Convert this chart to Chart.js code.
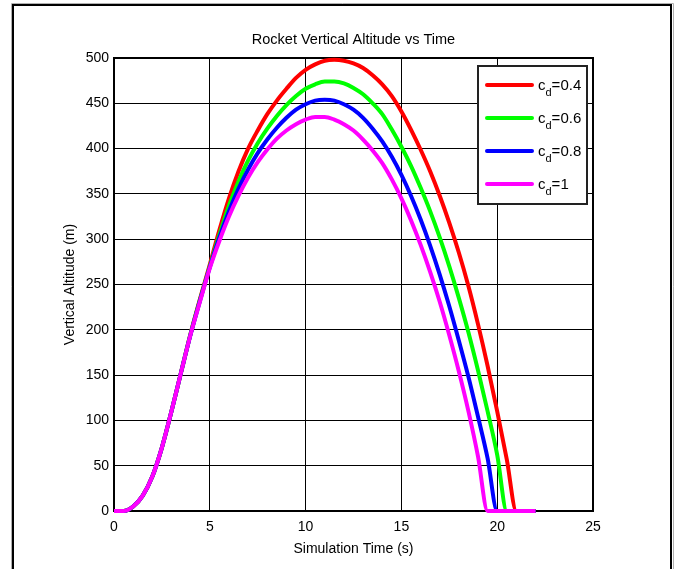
<!DOCTYPE html>
<html>
<head>
<meta charset="utf-8">
<script src="https://cdn.jsdelivr.net/npm/chart.js@4.4.1/dist/chart.umd.min.js"></script>
<style>
  html, body { margin: 0; padding: 0; background: #fff; }
  #wrap { position: relative; width: 678px; height: 569px; }
</style>
</head>
<body>
<div id="wrap"><canvas id="rocketChart" width="678" height="569"></canvas></div>
<script>
// simulation time (s)
const times = [0, 0.5, 1, 1.5, 2, 2.5, 3, 3.5, 4, 4.5, 5, 5.5, 6, 6.5, 7, 7.5, 8, 8.5, 9, 9.5,
  10, 10.5, 11, 11.5, 12, 12.5, 13, 13.5, 14, 14.5, 15, 15.5, 16, 16.5, 17, 17.5, 18, 18.5,
  19, 19.5, 20, 20.5, 21, 21.5, 22];

// drag coefficients (legend)
const dragCoeffs = [0.4, 0.6, 0.8, 1];

// altitude (m) for each cd
const altCd04 = [0, 0, 5, 17, 38, 70, 110, 153, 196, 235, 272, 310, 345, 375, 400, 420, 438, 453, 466, 478,
  487, 493, 497, 498, 497, 494, 489, 481, 471, 458, 441, 421, 399, 375, 348, 318, 285, 248,
  206, 160, 110, 57, 0, 0, 0];
const altCd06 = [0, 0, 5, 17, 38, 70, 110, 153, 196, 234, 270, 305, 337, 364, 387, 406, 422, 436, 448, 458,
  466, 471, 474, 474, 472, 467, 460, 450, 438, 421, 402, 381, 357, 331, 302, 270, 235, 197,
  155, 110, 62, 0, 0, 0, 0];
const altCd08 = [0, 0, 5, 17, 38, 70, 110, 153, 195, 233, 269, 302, 331, 356, 377, 395, 410, 423, 434, 443,
  449, 453, 454, 453, 449, 443, 434, 422, 408, 391, 371, 348, 322, 293, 261, 226, 188, 148,
  104, 58, 0, 0, 0, 0, 0];
const altCd1 = [0, 0, 5, 17, 38, 70, 110, 153, 195, 232, 268, 298, 325, 348, 368, 385, 399, 411, 420, 427,
  432, 435, 435, 432, 427, 420, 410, 398, 384, 366, 345, 321, 294, 264, 231, 194, 154, 110,
  60, 0, 0, 0, 0, 0, 0];

const lineColors = ["#ff0000", "#00ff00", "#0000ff", "#ff00ff"];
const allSeries = [altCd04, altCd06, altCd08, altCd1];
const chartTitle = "Rocket Vertical Altitude vs Time";

Chart.defaults.font.family = '"Liberation Sans", Arial, sans-serif';
Chart.defaults.color = "#000";

// outer figure frame + title centred over the axes
const framePlugin = {
  id: "figFrame",
  beforeDraw(chart) {
    const ctx = chart.ctx;
    ctx.save();
    ctx.fillStyle = "#fff";
    ctx.fillRect(0, 0, chart.width, chart.height);
    ctx.strokeStyle = "#b0b0b0";
    ctx.lineWidth = 1;
    ctx.beginPath();
    ctx.moveTo(11.5, 569); ctx.lineTo(11.5, 3.5); ctx.lineTo(673.5, 3.5); ctx.lineTo(673.5, 569);
    ctx.stroke();
    ctx.strokeStyle = "#000";
    ctx.lineWidth = 2;
    ctx.beginPath();
    ctx.moveTo(13, 569); ctx.lineTo(13, 5); ctx.lineTo(671, 5); ctx.lineTo(671, 569);
    ctx.stroke();
    const a = chart.chartArea;
    ctx.fillStyle = "#000";
    ctx.font = '14.5px "Liberation Sans", Arial';
    ctx.textAlign = "center";
    ctx.textBaseline = "middle";
    ctx.fillText(chartTitle, (a.left + a.right) / 2, 40);
    ctx.restore();
  }
};

// box around the axes
const boxPlugin = {
  id: "axesBox",
  beforeDatasetsDraw(chart) {
    const a = chart.chartArea;
    const ctx = chart.ctx;
    ctx.save();
    ctx.strokeStyle = "#000";
    ctx.lineWidth = 2;
    ctx.strokeRect(a.left, a.top, a.right - a.left, a.bottom - a.top);
    ctx.restore();
  }
};

// legend with subscript "d"
const cdLegend = {
  id: "cdLegend",
  afterDatasetsDraw(chart) {
    const ctx = chart.ctx;
    ctx.save();
    ctx.fillStyle = "#fff";
    ctx.fillRect(478, 66, 109, 138);
    ctx.strokeStyle = "#222";
    ctx.lineWidth = 2;
    ctx.strokeRect(478, 66, 109, 138);
    chart.data.datasets.forEach((ds, i) => {
      const y = 85 + i * 33;
      ctx.strokeStyle = ds.borderColor;
      ctx.lineWidth = 4;
      ctx.lineCap = "round";
      ctx.beginPath();
      ctx.moveTo(487, y);
      ctx.lineTo(532, y);
      ctx.stroke();
      ctx.fillStyle = "#000";
      ctx.textBaseline = "alphabetic";
      ctx.textAlign = "left";
      let x = 538;
      ctx.font = '15px "Liberation Sans", Arial';
      ctx.fillText("c", x, y + 5);
      x += ctx.measureText("c").width;
      ctx.font = '11px "Liberation Sans", Arial';
      ctx.fillText("d", x, y + 11);
      x += ctx.measureText("d").width;
      ctx.font = '15px "Liberation Sans", Arial';
      ctx.fillText("=" + ds.cd, x, y + 5);
    });
    ctx.restore();
  }
};

const ctx = document.getElementById("rocketChart").getContext("2d");

new Chart(ctx, {
  type: "line",
  data: {
    datasets: allSeries.map((s, i) => ({
      label: "cd=" + dragCoeffs[i],
      cd: dragCoeffs[i],
      data: times.map((t, k) => ({ x: t, y: s[k] })),
      borderColor: lineColors[i],
      borderWidth: 4,
      pointRadius: 0,
      fill: false,
      cubicInterpolationMode: "monotone",
      clip: false,
      order: 4 - i
    }))
  },
  options: {
    responsive: false,
    animation: false,
    layout: { padding: { left: 0, right: 85, top: 58, bottom: 0 } },
    plugins: {
      legend: { display: false },
      tooltip: { enabled: false },
      title: { display: false }
    },
    scales: {
      x: {
        type: "linear",
        min: 0,
        max: 25,
        ticks: { stepSize: 5, color: "#000", font: { size: 14 }, padding: 8 },
        grid: { color: "#000", lineWidth: 1, drawTicks: false },
        border: { color: "#000", width: 2 },
        title: {
          display: true,
          text: "Simulation Time (s)",
          color: "#000",
          font: { size: 14 },
          padding: { top: 0, bottom: 11.6 }
        },
        afterFit(scale) { scale.height = 58; }
      },
      y: {
        min: 0,
        max: 500,
        ticks: { stepSize: 50, color: "#000", font: { size: 14 }, padding: 5 },
        grid: { color: "#000", lineWidth: 1, drawTicks: false },
        border: { color: "#000", width: 2 },
        title: {
          display: true,
          text: "Vertical Altitude (m)",
          color: "#000",
          font: { size: 14 },
          padding: { top: 61.6, bottom: 0 }
        },
        afterFit(scale) { scale.width = 114; }
      }
    }
  },
  plugins: [framePlugin, boxPlugin, cdLegend]
});
</script>
</body>
</html>
